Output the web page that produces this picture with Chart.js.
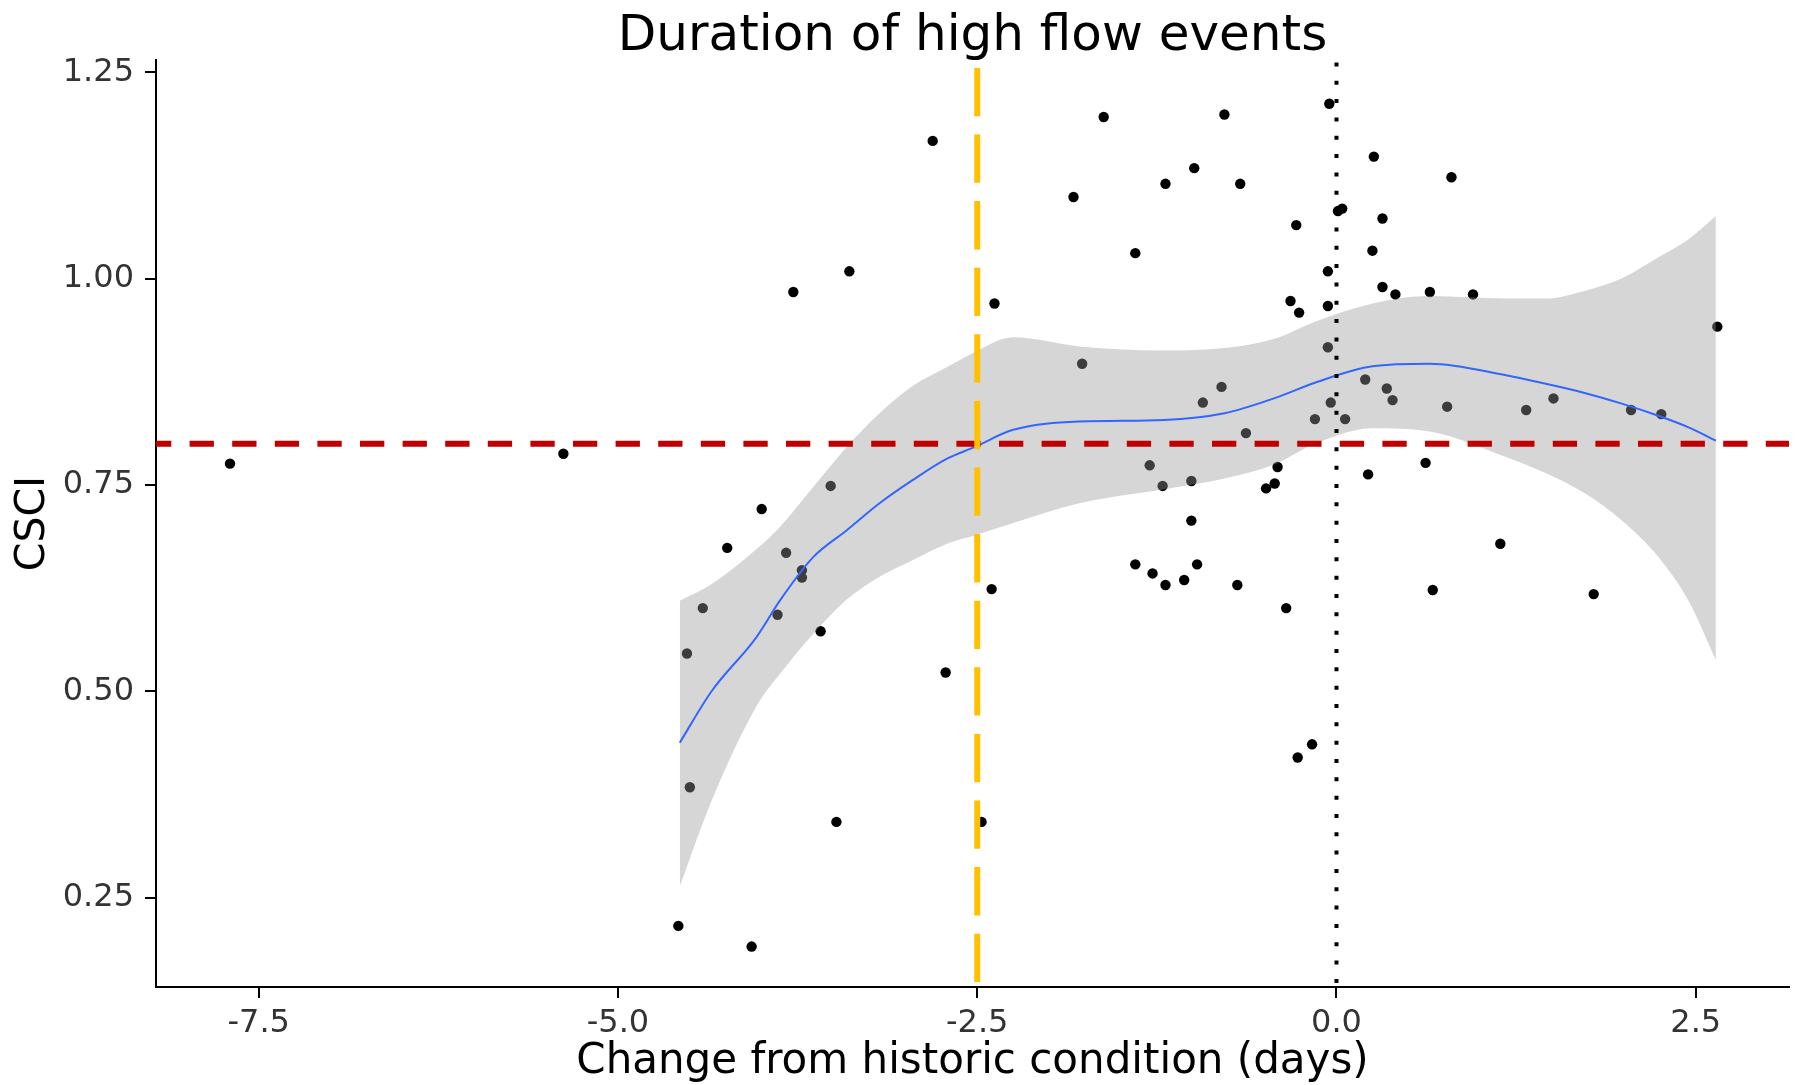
<!DOCTYPE html>
<html>
<head>
<meta charset="utf-8">
<title>Duration of high flow events</title>
<script src="https://cdn.jsdelivr.net/npm/chart.js@4.4.1/dist/chart.umd.min.js"></script>
<style>
  html, body { margin: 0; padding: 0; background: #fff; }
  #myChart { display: block; }
</style>
</head>
<body>
<canvas id="myChart" width="1800" height="1085"></canvas>
<script>
// sites: change in high flow duration (days) vs CSCI score
var siteChange = [-7.70, -5.38, -4.58, -4.52, -4.50, -4.41, -4.24, -4.07, -4.00, -3.89,
    -3.83, -3.78, -3.72, -3.72, -3.59, -3.52, -3.48, -3.39, -2.81, -2.72,
    -2.47, -2.40, -2.38, -1.83, -1.77, -1.62, -1.40, -1.40, -1.30, -1.28,
    -1.21, -1.19, -1.19, -1.06, -1.01, -1.01, -0.99, -0.97, -0.93, -0.80,
    -0.78, -0.69, -0.67, -0.63, -0.49, -0.43, -0.41, -0.35, -0.32, -0.28,
    -0.27, -0.26, -0.17, -0.15, -0.05, -0.06, -0.06, -0.06, -0.04, 0.01,
    0.04, 0.06, 0.20, 0.22, 0.25, 0.26, 0.32, 0.32, 0.35, 0.39,
    0.41, 0.62, 0.65, 0.67, 0.77, 0.80, 0.95, 1.14, 1.32, 1.51,
    1.79, 2.05, 2.26, 2.65];
var siteCsci = [0.776, 0.788, 0.216, 0.546, 0.384, 0.601, 0.674, 0.191, 0.721, 0.593,
    0.668, 0.984, 0.647, 0.638, 0.573, 0.749, 0.342, 1.009, 1.167, 0.523,
    0.342, 0.624, 0.970, 1.099, 0.897, 1.196, 1.031, 0.654, 0.774, 0.643,
    0.749, 1.115, 0.629, 0.635, 0.755, 0.707, 1.134, 0.654, 0.850, 0.869,
    1.199, 0.629, 1.115, 0.813, 0.746, 0.752, 0.772, 0.601, 0.973, 1.065,
    0.420, 0.959, 0.436, 0.830, 1.212, 1.009, 0.967, 0.917, 0.850, 1.082,
    1.085, 0.830, 0.878, 0.763, 1.034, 1.148, 1.073, 0.990, 0.867, 0.853,
    0.981, 0.777, 0.984, 0.623, 0.845, 1.123, 0.981, 0.679, 0.841, 0.855,
    0.618, 0.841, 0.836, 0.942];

// loess fit and its confidence band
var fitX = [-4.57, -4.35, -4.04, -3.87, -3.64, -3.41, -3.18, -2.95, -2.71, -2.52,
    -2.25, -1.79, -1.20, -0.78, -0.42, -0.15, 0.25, 0.65, 1.18, 1.45,
    1.72, 1.98, 2.24, 2.45, 2.64];
var fitY = [0.438, 0.500, 0.565, 0.611, 0.663, 0.695, 0.728, 0.756, 0.782, 0.796,
    0.817, 0.827, 0.829, 0.837, 0.856, 0.874, 0.894, 0.897, 0.883, 0.873,
    0.862, 0.849, 0.834, 0.820, 0.804];
var bandLow = [0.264, 0.367, 0.481, 0.522, 0.570, 0.611, 0.639, 0.659, 0.679, 0.689,
    0.704, 0.728, 0.745, 0.758, 0.776, 0.800, 0.819, 0.815, 0.784, 0.765,
    0.741, 0.708, 0.663, 0.610, 0.538];
var bandHigh = [0.610, 0.630, 0.672, 0.700, 0.748, 0.796, 0.837, 0.870, 0.893, 0.911,
    0.929, 0.918, 0.913, 0.916, 0.928, 0.948, 0.970, 0.979, 0.976, 0.976,
    0.985, 1.000, 1.026, 1.048, 1.076];

// reference lines
var csciThreshold = 0.8;
var changeThreshold = -2.5;
var noChange = 0;

var xLimits = [-8.215, 3.149];
var yLimits = [0.142, 1.265];
var xTicks = [-7.5, -5.0, -2.5, 0.0, 2.5];
var yTicks = [0.25, 0.50, 0.75, 1.00, 1.25];

function pairs(xs, ys) {
    return xs.map(function(x, i) { return { x: x, y: ys[i] }; });
}

// title centred over the panel, like ggplot does it
var panelTitle = {
    id: 'panelTitle',
    afterDraw: function(chart) {
        var ctx = chart.ctx;
        var area = chart.chartArea;
        ctx.save();
        ctx.font = '50px "DejaVu Sans"';
        ctx.fillStyle = '#000';
        ctx.textAlign = 'center';
        ctx.textBaseline = 'alphabetic';
        ctx.fillText('Duration of high flow events', (area.left + area.right) / 2, 50);
        ctx.restore();
    }
};

window.addEventListener('DOMContentLoaded', function() {
    var ctx = document.getElementById('myChart').getContext('2d');
    var tickFont = { family: 'DejaVu Sans', size: 32 };

    new Chart(ctx, {
        type: 'line',
        data: {
            datasets: [{
                label: 'No change',
                data: [{ x: noChange, y: yLimits[1] }, { x: noChange, y: yLimits[0] }],
                borderColor: '#000',
                borderWidth: 4,
                borderDash: [4, 14.33],
                borderDashOffset: 15.9,
                pointRadius: 0,
                fill: false,
                order: 0
            }, {
                label: 'Change threshold',
                data: [{ x: changeThreshold, y: yLimits[1] }, { x: changeThreshold, y: yLimits[0] }],
                borderColor: '#FFC000',
                borderWidth: 6,
                borderDash: [48.3, 18.3],
                borderDashOffset: 58.7,
                pointRadius: 0,
                fill: false,
                order: 1
            }, {
                label: 'CSCI threshold',
                data: [{ x: xLimits[0], y: csciThreshold }, { x: xLimits[1], y: csciThreshold }],
                borderColor: '#C00000',
                borderWidth: 6,
                borderDash: [24.3, 18.3],
                borderDashOffset: 9,
                pointRadius: 0,
                fill: false,
                order: 2
            }, {
                label: 'Loess fit',
                data: pairs(fitX, fitY),
                borderColor: '#3366FF',
                borderWidth: 2,
                cubicInterpolationMode: 'monotone',
                pointRadius: 0,
                fill: false,
                order: 3
            }, {
                label: 'Band low',
                data: pairs(fitX, bandLow),
                borderWidth: 0,
                borderColor: 'rgba(0,0,0,0)',
                cubicInterpolationMode: 'monotone',
                pointRadius: 0,
                fill: false,
                order: 4
            }, {
                label: 'Band high',
                data: pairs(fitX, bandHigh),
                borderWidth: 0,
                borderColor: 'rgba(0,0,0,0)',
                backgroundColor: 'rgba(153, 153, 153, 0.4)',
                cubicInterpolationMode: 'monotone',
                pointRadius: 0,
                fill: 4,
                order: 4
            }, {
                label: 'Sites',
                data: pairs(siteChange, siteCsci),
                showLine: false,
                pointRadius: 5.2,
                pointBorderWidth: 0,
                pointBackgroundColor: '#000',
                pointBorderColor: '#000',
                fill: false,
                order: 5
            }]
        },
        options: {
            responsive: false,
            animation: false,
            devicePixelRatio: 1,
            layout: { padding: { top: 60, right: 11, bottom: 0, left: 0 } },
            plugins: {
                legend: { display: false },
                tooltip: { enabled: false },
                title: { display: false }
            },
            scales: {
                x: {
                    type: 'linear',
                    min: xLimits[0],
                    max: xLimits[1],
                    afterBuildTicks: function(scale) {
                        scale.ticks = xTicks.map(function(v) { return { value: v }; });
                    },
                    afterFit: function(scale) { scale.height = 98; },
                    ticks: {
                        autoSkip: false,
                        maxRotation: 0,
                        padding: 6,
                        color: '#333',
                        font: tickFont,
                        callback: function(v) { return Number(v).toFixed(1); }
                    },
                    grid: { drawOnChartArea: false, drawTicks: true, tickLength: 11, color: '#000', lineWidth: 2 },
                    border: { display: true, color: '#000', width: 2 },
                    title: {
                        display: true,
                        text: 'Change from historic condition (days)',
                        color: '#000',
                        font: { family: 'DejaVu Sans', size: 42, lineHeight: 1 },
                        padding: { top: 0, bottom: 2 }
                    }
                },
                y: {
                    type: 'linear',
                    min: yLimits[0],
                    max: yLimits[1],
                    afterBuildTicks: function(scale) {
                        scale.ticks = yTicks.map(function(v) { return { value: v }; });
                    },
                    afterFit: function(scale) { scale.width = 156; },
                    ticks: {
                        autoSkip: false,
                        padding: 11,
                        color: '#333',
                        font: tickFont,
                        callback: function(v) { return Number(v).toFixed(2); }
                    },
                    grid: { drawOnChartArea: false, drawTicks: true, tickLength: 11, color: '#000', lineWidth: 2 },
                    border: { display: true, color: '#000', width: 2 },
                    title: {
                        display: true,
                        text: 'CSCI',
                        color: '#000',
                        font: { family: 'DejaVu Sans', size: 41, lineHeight: 1 },
                        padding: { top: 13, bottom: 0 }
                    }
                }
            }
        },
        plugins: [panelTitle]
    });
});
</script>
</body>
</html>
